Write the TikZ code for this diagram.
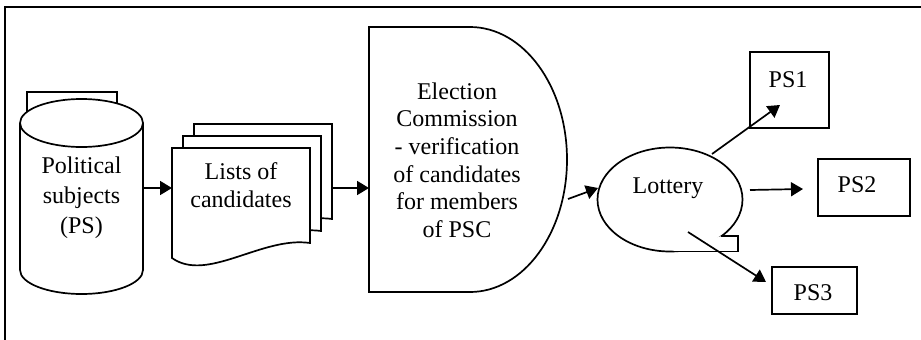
\documentclass[tikz,border=0pt]{standalone}
\usepackage{fontspec}
\setmainfont{Liberation Serif}
\usetikzlibrary{arrows.meta}

\tikzset{
  outline/.style={draw=black, line width=1.7pt, fill=white},
  label text/.style={inner sep=0pt, align=center, font=\fontsize{24}{28}\selectfont},
  psbox/.style={draw=black, line width=1.7pt, fill=white, inner sep=0pt},
  flow/.style={draw=black, line width=1.7pt, -{Triangle[length=12pt,width=14pt]}},
}

\begin{document}
\begin{tikzpicture}[x=1pt, y=-1pt, line join=miter]
\useasboundingbox (0,0) rectangle (921,340);

% frame
\draw[line width=1.7pt] (5,340) -- (5,7) -- (921,7);

% political subjects: stacked database drum
\draw[outline] (27,92) rectangle (117,135);
\draw[outline] (81.5,270) ellipse[x radius=61.5, y radius=24];
\fill[white] (20,123) rectangle (143,270);
\draw[line width=1.7pt] (20,123) -- (20,270) (143,123) -- (143,270);
\draw[outline] (81.5,123) ellipse[x radius=61.5, y radius=24];
\node[label text, font=\fontsize{24}{30}\selectfont] (subjects) at (81.5,198) {Political\\subjects\\(PS)};

% lists of candidates: stack of documents
\foreach \dx/\dy in {22/-24, 11/-12, 0/0}{
  \begin{scope}[shift={(172+\dx,148+\dy)}]
    \draw[outline] (0,0) -- (138,0) -- (138,95)
      .. controls (90,88) and (35,135) .. (0,110) -- cycle;
  \end{scope}
}
\node[label text] (lists) at (241,185) {Lists of\\candidates};

% election commission: delay shape
\draw[outline] (470,27) -- (369,27) -- (369,292) -- (470,292)
  .. controls (523.6,292) and (567,232.7) .. (567,159.5)
  .. controls (567,86.3) and (523.6,27) .. (470,27);
\node[label text, font=\fontsize{24}{27.6}\selectfont] (commission) at (457,160)
  {Election\\Commission\\- verification\\of candidates\\for members\\of PSC};

% lottery: ellipse with tail
\draw[outline] (670,199.5) ellipse[x radius=72.5, y radius=52];
\fill[white] (721.6,236) -- (738,236) -- (738,251.5) -- (670,251.5) -- cycle;
\draw[line width=1.7pt] (720.6,236) -- (738,236) -- (738,251.5) -- (670,251.5);
\node[label text] (lottery) at (668,188) {Lottery};

% drawn political subjects
\node[psbox, minimum width=79pt, minimum height=76pt] (ps1box) at (789.5,90) {};
\node[label text] (ps1) at (788,80) {PS1};
\node[psbox, minimum width=92pt, minimum height=57pt] (ps2) at (864,187.5) {};
\node[label text] at (857,185) {PS2};
\node[psbox, minimum width=85pt, minimum height=47pt] (ps3) at (814.5,290.5) {};
\node[label text] at (813,293) {PS3};

% connector end points
\coordinate (cylR) at (143,188);
\coordinate (docL) at (172,188);
\coordinate (docR) at (332,188);
\coordinate (ecL) at (369,188);
\coordinate (ecR) at (568,199);
\coordinate (lotL) at (598,188);
\coordinate (lotA) at (712,154);
\coordinate (ps1in) at (780,105);
\coordinate (lotB) at (750,190);
\coordinate (ps2in) at (803,189);
\coordinate (lotC) at (688,232);
\coordinate (ps3in) at (766,282);

\draw[flow] (cylR) -- (docL);
\draw[flow] (docR) -- (ecL);
\draw[flow] (ecR) -- (lotL);
\draw[flow] (lotA) -- (ps1in);
\draw[flow] (lotB) -- (ps2in);
\draw[flow] (lotC) -- (ps3in);
\end{tikzpicture}
\end{document}
